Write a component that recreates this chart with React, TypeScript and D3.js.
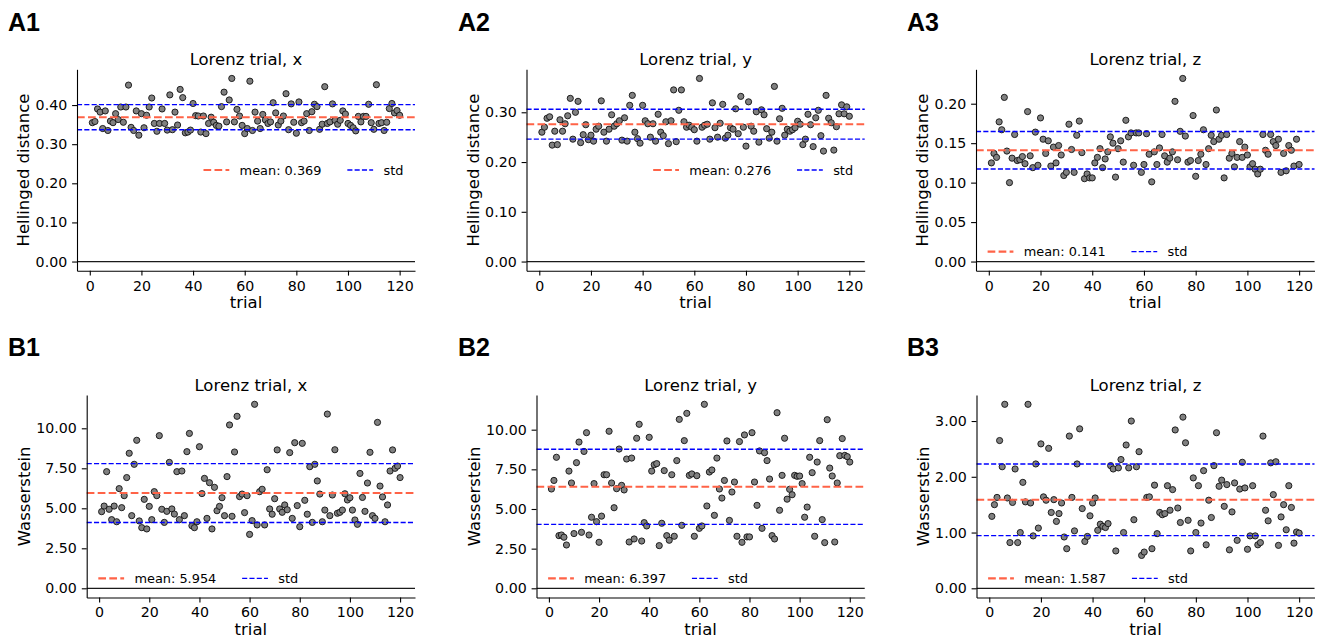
import React, { useEffect, useRef } from "react";
import * as d3 from "d3";

// ---------- data ----------
const TRIALS: number[] = d3.range(1, 121);

const HELLINGER_X = [
  0.355, 0.358, 0.390, 0.382, 0.340, 0.385, 0.335, 0.359, 0.355, 0.378,
  0.363, 0.395, 0.356, 0.395, 0.451, 0.343, 0.335, 0.385, 0.323, 0.378,
  0.342, 0.374, 0.395, 0.418, 0.353, 0.333, 0.353, 0.390, 0.353, 0.336,
  0.426, 0.337, 0.382, 0.349, 0.440, 0.419, 0.329, 0.331, 0.336, 0.404,
  0.373, 0.372, 0.331, 0.372, 0.327, 0.353, 0.369, 0.356, 0.348, 0.346,
  0.396, 0.433, 0.357, 0.413, 0.468, 0.357, 0.389, 0.372, 0.348, 0.327,
  0.340, 0.461, 0.335, 0.382, 0.359, 0.340, 0.376, 0.362, 0.353, 0.357,
  0.406, 0.380, 0.349, 0.359, 0.372, 0.429, 0.337, 0.403, 0.356, 0.328,
  0.408, 0.355, 0.359, 0.378, 0.335, 0.383, 0.402, 0.396, 0.338, 0.351,
  0.447, 0.353, 0.357, 0.403, 0.361, 0.351, 0.361, 0.385, 0.377, 0.353,
  0.348, 0.342, 0.334, 0.371, 0.357, 0.371, 0.371, 0.402, 0.355, 0.338,
  0.452, 0.353, 0.355, 0.335, 0.356, 0.391, 0.404, 0.380, 0.386, 0.374,
];

const HELLINGER_Y = [
  0.260, 0.270, 0.288, 0.291, 0.234, 0.262, 0.235, 0.285, 0.262, 0.277,
  0.293, 0.328, 0.246, 0.300, 0.322, 0.239, 0.255, 0.275, 0.245, 0.254,
  0.242, 0.266, 0.272, 0.323, 0.260, 0.242, 0.266, 0.295, 0.272, 0.277,
  0.283, 0.244, 0.289, 0.242, 0.314, 0.334, 0.260, 0.247, 0.238, 0.314,
  0.283, 0.277, 0.250, 0.277, 0.242, 0.296, 0.260, 0.253, 0.281, 0.237,
  0.283, 0.345, 0.241, 0.304, 0.345, 0.281, 0.270, 0.274, 0.270, 0.265,
  0.242, 0.368, 0.270, 0.274, 0.276, 0.246, 0.319, 0.269, 0.250, 0.278,
  0.316, 0.248, 0.254, 0.269, 0.266, 0.307, 0.257, 0.332, 0.270, 0.232,
  0.321, 0.272, 0.262, 0.301, 0.240, 0.305, 0.295, 0.267, 0.248, 0.260,
  0.352, 0.242, 0.287, 0.308, 0.254, 0.266, 0.262, 0.265, 0.269, 0.282,
  0.276, 0.235, 0.246, 0.296, 0.275, 0.231, 0.289, 0.304, 0.253, 0.222,
  0.334, 0.288, 0.279, 0.224, 0.271, 0.297, 0.315, 0.297, 0.311, 0.292,
];

const HELLINGER_Z = [
  0.125, 0.137, 0.132, 0.177, 0.167, 0.208, 0.140, 0.100, 0.131, 0.161,
  0.128, 0.129, 0.133, 0.124, 0.190, 0.134, 0.119, 0.164, 0.122, 0.182,
  0.155, 0.137, 0.153, 0.121, 0.145, 0.125, 0.147, 0.135, 0.109, 0.113,
  0.174, 0.142, 0.113, 0.160, 0.178, 0.138, 0.105, 0.111, 0.106, 0.106,
  0.125, 0.132, 0.143, 0.119, 0.130, 0.139, 0.158, 0.150, 0.107, 0.143,
  0.153, 0.126, 0.179, 0.158, 0.163, 0.122, 0.163, 0.163, 0.113, 0.123,
  0.162, 0.136, 0.101, 0.139, 0.123, 0.144, 0.161, 0.134, 0.126, 0.131,
  0.139, 0.203, 0.129, 0.165, 0.232, 0.159, 0.126, 0.128, 0.185, 0.108,
  0.128, 0.136, 0.167, 0.123, 0.143, 0.160, 0.152, 0.192, 0.155, 0.160,
  0.106, 0.161, 0.131, 0.137, 0.120, 0.132, 0.152, 0.132, 0.145, 0.135,
  0.120, 0.124, 0.117, 0.111, 0.117, 0.161, 0.141, 0.136, 0.161, 0.152,
  0.147, 0.155, 0.113, 0.137, 0.115, 0.147, 0.141, 0.121, 0.155, 0.123,
];

const WASSERSTEIN_X = [
  4.79, 5.14, 7.29, 4.94, 4.29, 5.14, 4.16, 6.23, 5.04, 5.79,
  6.92, 8.44, 4.54, 7.75, 9.25, 4.21, 3.79, 5.56, 3.71, 5.12,
  4.29, 6.04, 5.79, 9.54, 4.94, 4.12, 4.81, 7.87, 4.96, 4.64,
  7.29, 4.29, 7.33, 4.54, 8.54, 9.68, 3.91, 3.79, 4.16, 8.85,
  5.92, 6.87, 4.37, 6.60, 3.71, 6.31, 4.85, 5.12, 5.66, 4.54,
  6.98, 10.21, 4.50, 8.52, 10.75, 5.73, 5.89, 4.73, 5.79, 3.37,
  4.23, 11.50, 3.96, 6.04, 6.19, 3.96, 7.41, 4.96, 4.63, 5.60,
  8.65, 4.96, 4.75, 5.21, 4.91, 8.48, 4.37, 9.10, 5.17, 3.85,
  9.06, 5.50, 4.63, 7.60, 4.12, 7.75, 6.71, 5.89, 4.16, 4.89,
  10.89, 4.54, 5.83, 8.66, 4.69, 4.75, 4.89, 5.91, 5.52, 5.66,
  4.89, 4.27, 4.00, 7.18, 5.68, 4.81, 6.58, 8.50, 4.54, 4.37,
  10.37, 6.39, 5.71, 4.16, 5.21, 7.33, 8.65, 7.50, 7.64, 6.92,
];

const WASSERSTEIN_Y = [
  6.26, 6.80, 8.26, 3.32, 3.36, 3.22, 2.73, 7.39, 6.64, 3.45,
  7.92, 9.22, 3.53, 8.63, 9.81, 3.36, 4.48, 6.60, 4.20, 2.90,
  4.55, 7.16, 7.16, 9.90, 6.64, 5.08, 6.28, 8.78, 6.49, 6.20,
  8.15, 2.92, 8.21, 3.11, 9.46, 10.34, 2.98, 4.14, 3.93, 9.52,
  7.39, 7.79, 7.86, 2.69, 4.10, 7.42, 3.32, 3.03, 7.16, 3.28,
  8.05, 10.65, 3.97, 9.31, 11.03, 7.12, 7.21, 3.28, 7.10, 3.78,
  3.93, 11.60, 5.19, 7.33, 7.46, 4.60, 8.21, 6.26, 5.69, 6.80,
  9.29, 4.28, 6.07, 6.70, 3.28, 9.25, 2.90, 9.67, 3.24, 3.24,
  9.81, 6.70, 5.23, 8.66, 3.78, 8.55, 8.05, 6.89, 3.32, 3.11,
  11.07, 4.92, 7.12, 9.46, 5.62, 6.24, 5.90, 7.12, 7.06, 7.08,
  6.60, 4.48, 5.12, 8.26, 7.29, 3.28, 7.96, 9.31, 4.33, 2.88,
  10.63, 7.58, 7.08, 2.92, 6.64, 8.36, 9.44, 8.38, 8.30, 7.96,
];

const WASSERSTEIN_Z = [
  1.29, 1.50, 1.63, 2.65, 2.18, 3.30, 1.62, 0.82, 1.54, 2.14,
  0.82, 1.00, 1.90, 1.55, 3.30, 1.53, 0.94, 2.23, 1.08, 2.59,
  1.64, 1.58, 2.51, 1.36, 1.59, 1.20, 1.34, 1.53, 0.92, 0.71,
  2.73, 1.63, 1.03, 2.23, 2.86, 1.43, 0.84, 0.93, 1.30, 1.53,
  1.62, 1.04, 1.15, 1.11, 1.09, 1.16, 2.20, 2.14, 0.67, 2.16,
  2.31, 1.00, 2.57, 2.16, 3.00, 1.23, 2.18, 2.45, 0.59, 0.65,
  1.63, 1.64, 0.71, 1.85, 0.98, 1.36, 1.32, 1.34, 1.84, 1.40,
  1.77, 2.84, 1.44, 1.18, 3.07, 2.61, 1.22, 0.67, 1.98, 1.00,
  1.84, 1.17, 2.11, 0.78, 1.58, 1.27, 2.20, 2.79, 1.83, 1.94,
  1.47, 1.86, 0.69, 1.37, 1.89, 0.86, 1.78, 2.26, 1.80, 0.70,
  0.94, 1.84, 0.94, 0.78, 0.82, 2.73, 1.40, 1.21, 2.25, 1.68,
  2.27, 0.77, 1.28, 1.50, 1.05, 1.84, 1.45, 0.81, 1.01, 0.99,
];

const SERIES = [HELLINGER_X, HELLINGER_Y, HELLINGER_Z, WASSERSTEIN_X, WASSERSTEIN_Y, WASSERSTEIN_Z];
const PANEL_LABELS = ["A1", "A2", "A3", "B1", "B2", "B3"];
const TITLES = [
  "Lorenz trial, x", "Lorenz trial, y", "Lorenz trial, z",
  "Lorenz trial, x", "Lorenz trial, y", "Lorenz trial, z",
];
const ROW_Y_LABELS = ["Hellinged distance", "Wasserstein"];
const X_LABEL = "trial";
const MEANS = [0.369, 0.276, 0.141, 5.954, 6.397, 1.587];
const STDS = [0.032, 0.030, 0.0237, 1.84, 2.37, 0.643];
const X_TICKS = [0, 20, 40, 60, 80, 100, 120];
const Y_TICKS = [
  [0, 0.1, 0.2, 0.3, 0.4],
  [0, 0.1, 0.2, 0.3],
  [0, 0.05, 0.1, 0.15, 0.2],
  [0, 2.5, 5, 7.5, 10],
  [0, 2.5, 5, 7.5, 10],
  [0, 1, 2, 3],
];
const LEGEND_LOC = ["center right", "center right", "lower left", "lower left", "lower left", "lower left"];

// ---------- layout ----------
const W = 1330;
const H = 640;
const LEFTS = [77, 526.5, 976, 86.7, 536.5, 976.5];
const RIGHTS = [415, 864.7, 1314.5];
const TOPS = [69.3, 395.1];
const BOTTOMS = [270.7, 597.5];
const LABEL_X = [8, 458, 907];
const LABEL_BASE = [31, 356];

const FONT = "'DejaVu Sans', 'Liberation Sans', sans-serif";
const TICK_FS = 14.2;
const LABEL_FS = 16.5;
const LEGEND_FS = 12.9;
const RED = "#ff6347";
const BLUE = "#0000ff";

export default function App() {
  const ref = useRef<SVGSVGElement | null>(null);

  useEffect(() => {
    const svg = d3.select(ref.current);
    svg.selectAll("*").remove();

    SERIES.forEach((values, i) => {
      const row = Math.floor(i / 3);
      const col = i % 3;
      const left = LEFTS[i];
      const right = RIGHTS[col];
      const top = TOPS[row];
      const bottom = BOTTOMS[row];
      const n = TRIALS.length;
      const xMin = TRIALS[0];
      const xMax = TRIALS[n - 1];
      const xPad = 0.05 * (xMax - xMin);
      const yMax = d3.max(values) as number;
      const yPad = 0.05 * yMax;

      const x = d3.scaleLinear().domain([xMin - xPad, xMax + xPad]).range([left, right]);
      const y = d3.scaleLinear().domain([-yPad, yMax + yPad]).range([bottom, top]);

      const g = svg.append("g");

      // scatter
      g.append("g")
        .selectAll("circle")
        .data(values)
        .join("circle")
        .attr("cx", (_d, j) => x(TRIALS[j]))
        .attr("cy", (d) => y(d))
        .attr("r", 3.1)
        .attr("fill", "#808080")
        .attr("stroke", "#111")
        .attr("stroke-width", 0.9);

      const hline = (v: number, color: string, w: number, dash: string | null) => {
        const l = g
          .append("line")
          .attr("x1", left)
          .attr("x2", right)
          .attr("y1", y(v))
          .attr("y2", y(v))
          .attr("stroke", color)
          .attr("stroke-width", w);
        if (dash) l.attr("stroke-dasharray", dash);
      };
      hline(0, "#1a1a1a", 1.3, null);
      hline(MEANS[i], RED, 2.08, "7.7,3.3");
      hline(MEANS[i] + STDS[i], BLUE, 1.39, "5.1,2.2");
      hline(MEANS[i] - STDS[i], BLUE, 1.39, "5.1,2.2");

      // axes
      const fmt = d3.format(".2f");
      const yAxis = g
        .append("g")
        .attr("transform", `translate(${left},0)`)
        .call(
          d3.axisLeft(y).tickValues(Y_TICKS[i]).tickFormat((d) => fmt(d as number)).tickSize(4.9).tickSizeOuter(0).tickPadding(4.9)
        );
      const xAxis = g
        .append("g")
        .attr("transform", `translate(0,${bottom})`)
        .call(
          d3.axisBottom(x).tickValues(X_TICKS).tickFormat((d) => String(d)).tickSize(4.9).tickSizeOuter(0).tickPadding(4.9)
        );
      [yAxis, xAxis].forEach((a) => {
        a.attr("font-family", FONT).attr("font-size", TICK_FS);
        a.select(".domain").attr("stroke", "#000").attr("stroke-width", 1.1);
        a.selectAll(".tick line").attr("stroke", "#000").attr("stroke-width", 1.1);
        a.selectAll(".tick text").attr("fill", "#000");
      });

      // tick labels extent for the y label
      let labelsLeft = left;
      yAxis.selectAll<SVGTextElement, unknown>(".tick text").each(function () {
        const bb = this.getBBox();
        const m = this.getCTM();
        const lx = (m ? m.e : 0) + bb.x;
        if (lx < labelsLeft) labelsLeft = lx;
      });

      // title
      g.append("text")
        .attr("x", (left + right) / 2)
        .attr("y", top - 4.3)
        .attr("text-anchor", "middle")
        .attr("font-family", FONT)
        .attr("font-size", LABEL_FS)
        .attr("fill", "#000")
        .text(TITLES[i]);

      // x label
      g.append("text")
        .attr("x", (left + right) / 2)
        .attr("y", bottom + 37.4)
        .attr("text-anchor", "middle")
        .attr("font-family", FONT)
        .attr("font-size", LABEL_FS)
        .attr("fill", "#000")
        .text(X_LABEL);

      // y label
      g.append("text")
        .attr("transform", `translate(${labelsLeft - 6.3},${(top + bottom) / 2}) rotate(-90)`)
        .attr("text-anchor", "middle")
        .attr("font-family", FONT)
        .attr("font-size", LABEL_FS)
        .attr("fill", "#000")
        .text(ROW_Y_LABELS[row]);

      // panel letter
      svg
        .append("text")
        .attr("x", LABEL_X[col])
        .attr("y", LABEL_BASE[row])
        .attr("font-family", "'Liberation Sans', Arial, sans-serif")
        .attr("font-weight", "bold")
        .attr("font-size", 25)
        .attr("fill", "#000")
        .text(PANEL_LABELS[i]);

      // legend
      const fs = LEGEND_FS;
      const items = [
        { label: `mean: ${MEANS[i].toFixed(3)}`, color: RED, w: 2.08, dash: "7.7,3.3" },
        { label: "std", color: BLUE, w: 1.39, dash: "5.1,2.2" },
      ];
      const lg = g.append("g");
      let cx = 0;
      items.forEach((it, k) => {
        lg.append("line")
          .attr("x1", cx)
          .attr("x2", cx + 2 * fs)
          .attr("y1", 0)
          .attr("y2", 0)
          .attr("stroke", it.color)
          .attr("stroke-width", it.w)
          .attr("stroke-dasharray", it.dash);
        cx += 2 * fs + 0.8 * fs;
        const t = lg
          .append("text")
          .attr("x", cx)
          .attr("y", 0.36 * fs)
          .attr("font-family", FONT)
          .attr("font-size", fs)
          .attr("fill", "#000")
          .text(it.label);
        cx += (t.node() as SVGTextElement).getComputedTextLength();
        if (k < items.length - 1) cx += 2 * fs;
      });
      let lx: number;
      let ly: number;
      if (LEGEND_LOC[i] === "center right") {
        lx = right - 0.9 * fs - cx;
        ly = (top + bottom) / 2;
      } else {
        lx = left + 0.9 * fs;
        ly = bottom - 19.1;
      }
      lg.attr("transform", `translate(${lx},${ly})`);
    });
  }, []);

  return (
    <div style={{ position: "absolute", left: 0, top: 0, width: W, height: H, background: "#fff" }}>
      <svg ref={ref} width={W} height={H} style={{ display: "block", background: "#fff" }} />
    </div>
  );
}
